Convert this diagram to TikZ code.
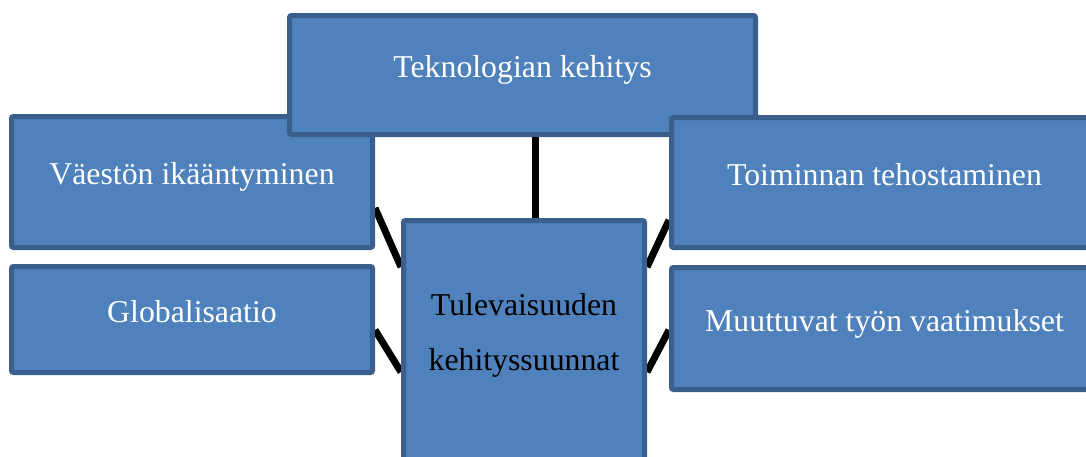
\documentclass[tikz,border=0pt]{standalone}
\usepackage{fontspec}
\setmainfont{Liberation Serif}
\usetikzlibrary{backgrounds}
\definecolor{boxfill}{HTML}{4F81BD}
\definecolor{boxline}{HTML}{3A5F8D}
\begin{document}
\begin{tikzpicture}[x=1pt,y=1pt,
  topicbox/.style={draw=boxline, fill=boxfill, line width=5pt, rounded corners=2pt,
    text=white, font=\fontsize{31.8}{38}\selectfont, text height=22pt, text depth=17pt,
    inner sep=0pt},
  link/.style={draw=black, line width=7pt}]
\useasboundingbox (0,0) rectangle (1086,-456);
\clip (0,0) rectangle (1086,-456);
\node[topicbox, minimum width=361pt, minimum height=131pt] (vae) at (192,-182) {Väestön ikääntyminen};
\node[topicbox, minimum width=361pt, minimum height=106pt] (glo) at (192,-319.5) {Globalisaatio};
\node[topicbox, minimum width=466pt, minimum height=119pt] (tek) at (522.5,-75) {Teknologian kehitys};
\node[topicbox, minimum width=426pt, minimum height=130pt] (toi) at (884.5,-182.5) {Toiminnan tehostaminen};
\node[topicbox, minimum width=426pt, minimum height=122pt] (muu) at (884.5,-328.5) {Muuttuvat työn vaatimukset};
\node[topicbox, minimum width=241pt, minimum height=257pt] (cen) at (524,-349) {};
\node[font=\fontsize{31.8}{55}\selectfont, align=center, text=black, inner sep=0pt] (centext) at (524,-335) {Tulevaisuuden\\kehityssuunnat};
\begin{pgfonlayer}{background}
\draw[link] ([xshift=12.5pt]tek.south) -- ([xshift=11pt]cen.north);
\draw[link] ([yshift=-26pt]vae.east) -- ([yshift=82pt]cen.west);
\draw[link] ([yshift=-10.5pt]glo.east) -- ([yshift=-23pt]cen.west);
\draw[link] ([yshift=82pt]cen.east) -- ([yshift=-37.5pt]toi.west);
\draw[link] ([yshift=-23pt]cen.east) -- ([yshift=-1.5pt]muu.west);
\end{pgfonlayer}
\end{tikzpicture}
\end{document}
